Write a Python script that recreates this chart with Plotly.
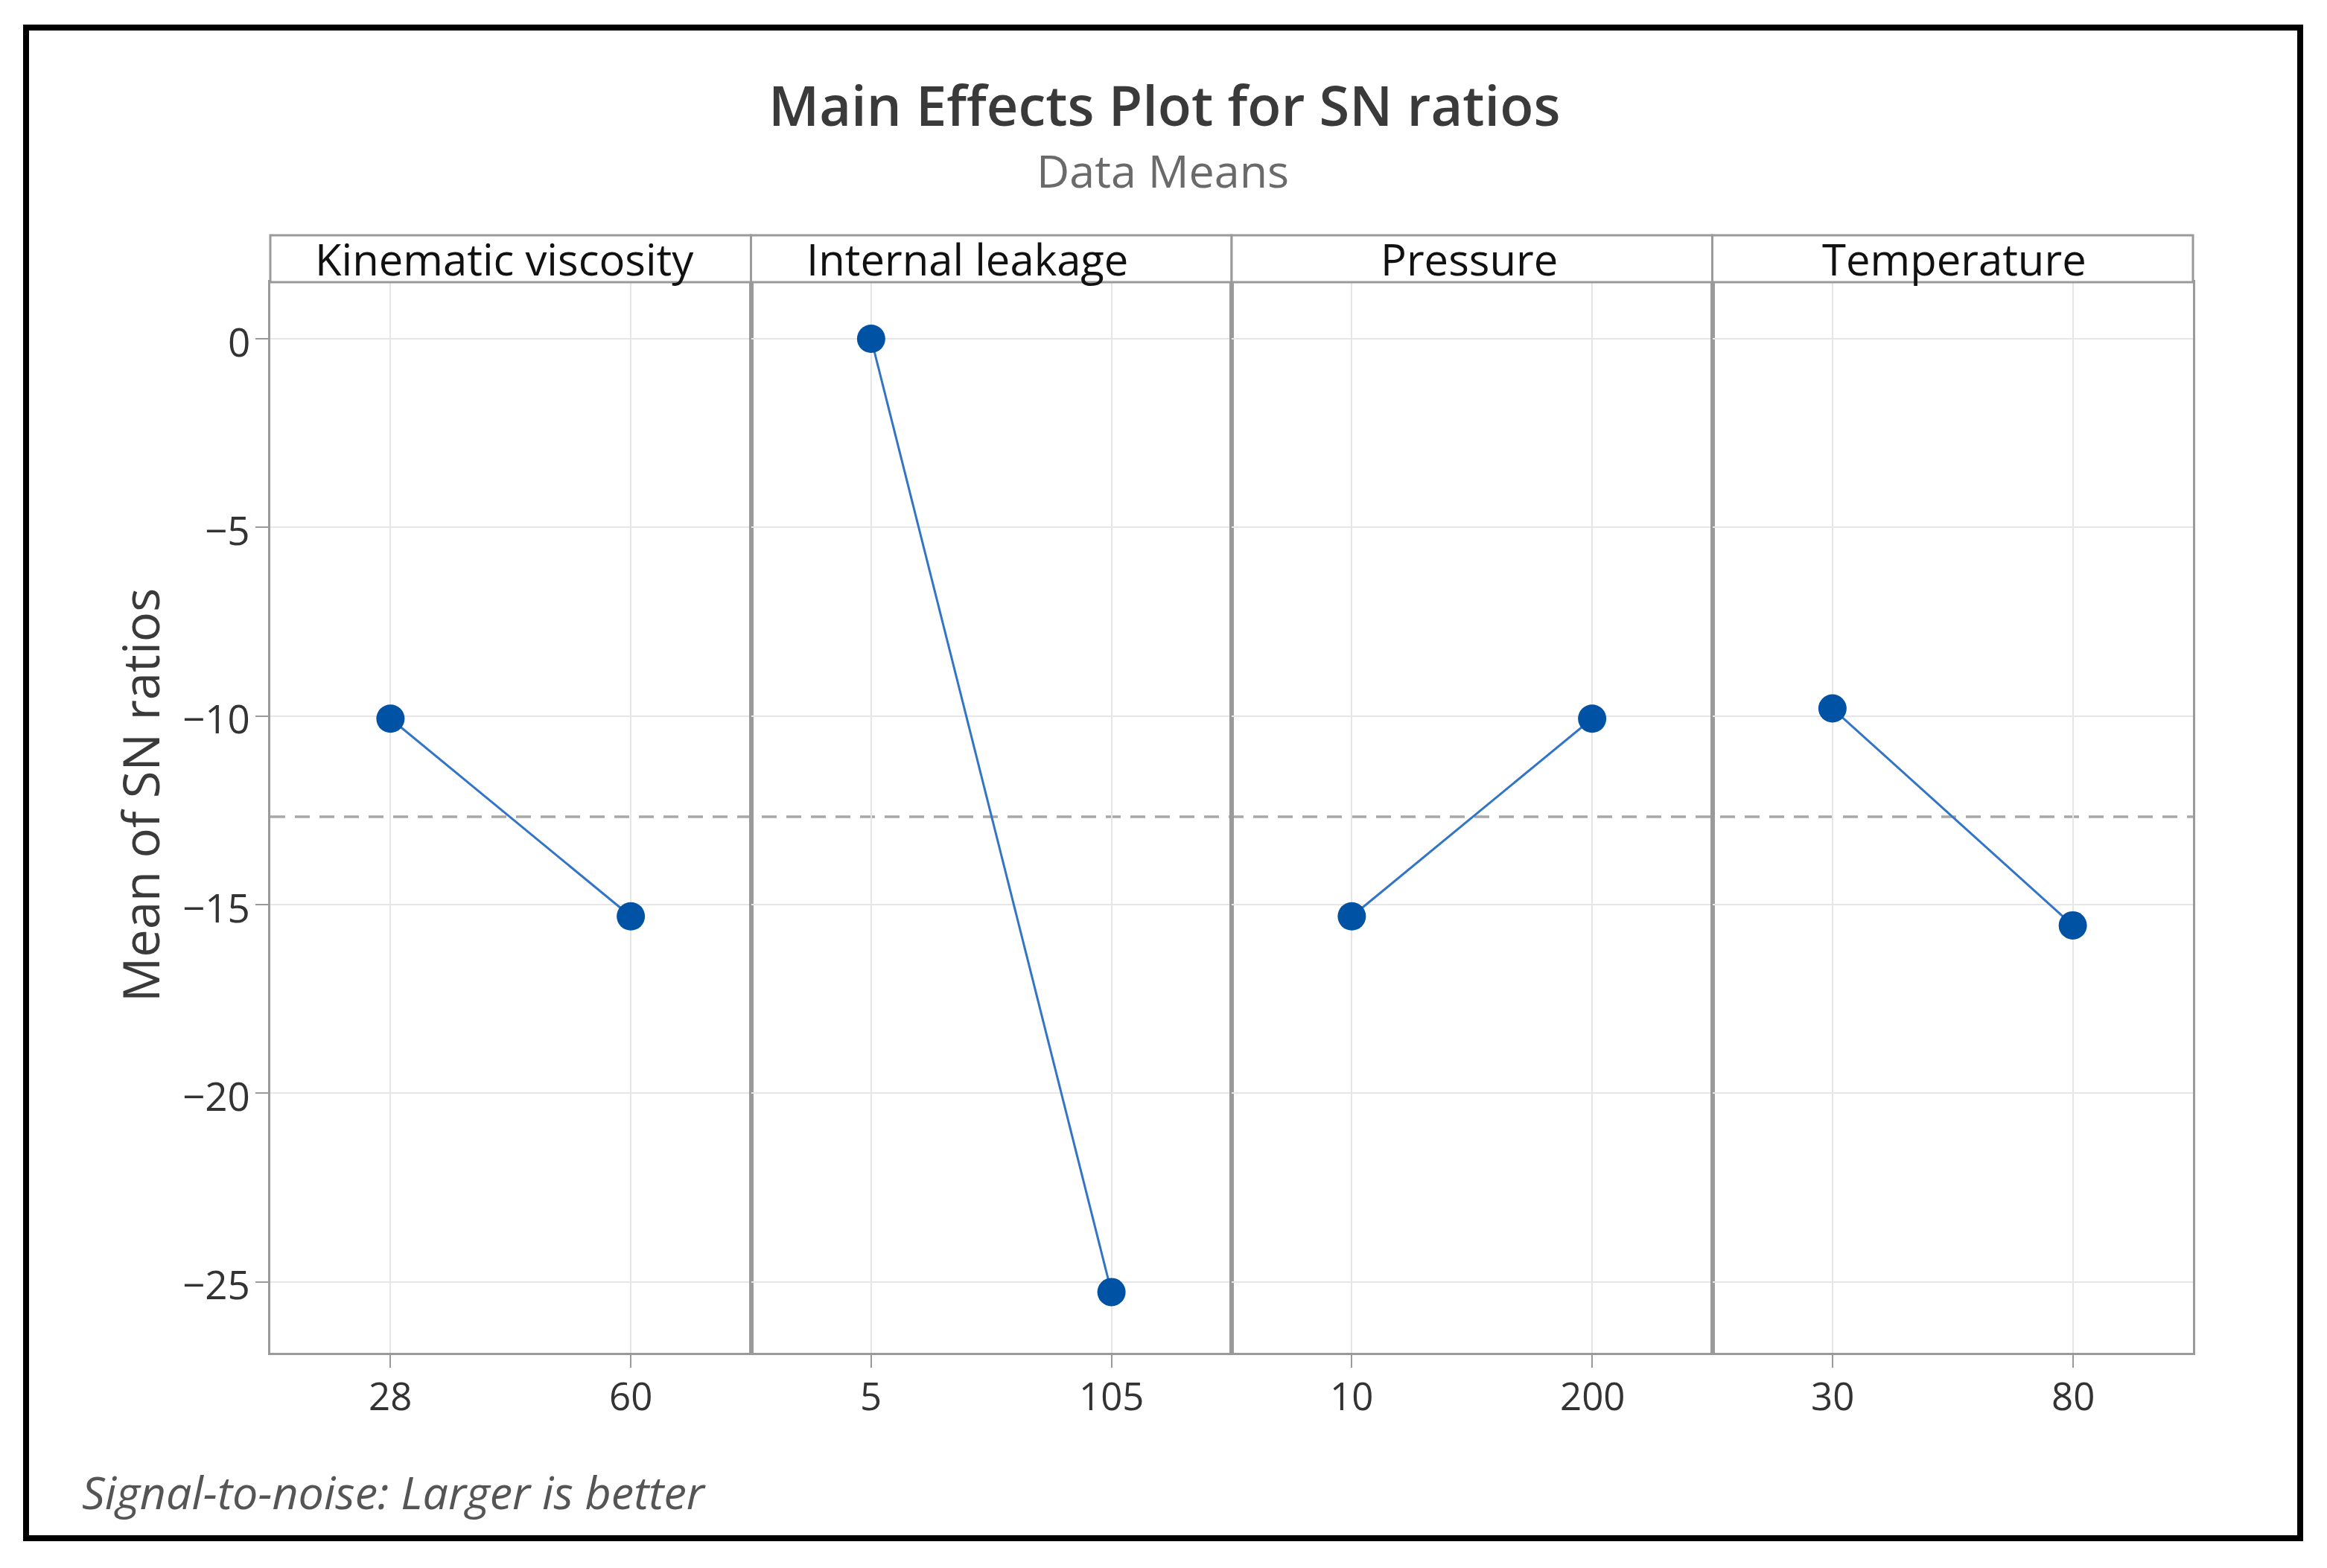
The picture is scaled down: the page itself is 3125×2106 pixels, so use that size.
import plotly.graph_objects as go

# ---- data ----
factors = ["Kinematic viscosity", "Internal leakage", "Pressure", "Temperature"]
levels = [["28", "60"], ["5", "105"], ["10", "200"], ["30", "80"]]
sn_means = [[-10.07, -15.31], [0.0, -25.27], [-15.31, -10.07], [-9.80, -15.55]]
y_ticks = [0, -5, -10, -15, -20, -25]
y_range = [-26.88, 1.50]
overall_mean = sum(sum(v) for v in sn_means) / sum(len(v) for v in sn_means)

W, H = 3125, 2106
FONT = "Open Sans"
OFF = 8  # page body margin in the browser


def px(x):
    return (x - OFF) / W


def py(y):
    return 1 - (y - OFF) / H


panel_edges = [363, 1008.5, 1654, 2299.5, 2945]
strip_label_shift = [-8, -32, -4, 2]
plot_top, plot_bot = 379, 1817
strip_top = 316
TICK_COLOR = "#333333"

fig = go.Figure()
layout = {}
shapes = []
annotations = []

for i, (name, lv, vals) in enumerate(zip(factors, levels, sn_means)):
    n = "" if i == 0 else str(i + 1)
    xa, ya = "x" + n, "y" + n
    fig.add_trace(go.Scatter(
        x=lv, y=vals, xaxis=xa, yaxis=ya, mode="lines+markers",
        line=dict(color="#3274c6", width=3),
        marker=dict(color="#0052a5", size=38, symbol="circle"),
        showlegend=False, hoverinfo="x+y",
    ))
    layout["xaxis" + n] = dict(
        domain=[px(panel_edges[i]), px(panel_edges[i + 1])],
        anchor=ya, type="category", range=[-0.5, 1.5],
        categoryorder="array", categoryarray=lv,
        showgrid=True, gridcolor="#e6e6e6", gridwidth=2,
        showline=True, mirror=True, linecolor="#9a9a9a", linewidth=3,
        ticks="outside", ticklen=17, tickwidth=2, tickcolor="#9a9a9a",
        showticklabels=False,
        zeroline=False, fixedrange=True,
    )
    # x tick labels placed through the category axis (category index)
    for j, lab in enumerate(lv):
        annotations.append(dict(text=lab, xref=xa, x=j, yref="paper", y=py(1874),
                                xanchor="center", yanchor="middle", showarrow=False,
                                font=dict(family=FONT, size=51, color=TICK_COLOR)))
    yd = dict(
        domain=[py(plot_bot), py(plot_top)],
        anchor=xa, range=y_range,
        tickmode="array", tickvals=y_ticks,
        showgrid=True, gridcolor="#e6e6e6", gridwidth=2,
        showline=True, mirror=True, linecolor="#9a9a9a", linewidth=3,
        zeroline=False, fixedrange=True, showticklabels=False,
    )
    if i == 0:
        yd.update(ticks="outside", ticklen=17, tickwidth=2, tickcolor="#9a9a9a")
    else:
        yd.update(ticks="", matches="y")
    layout["yaxis" + n] = yd

    # strip header
    shapes.append(dict(type="rect", xref="paper", yref="paper",
                       x0=px(panel_edges[i]), x1=px(panel_edges[i + 1]),
                       y0=py(plot_top), y1=py(strip_top),
                       line=dict(color="#9a9a9a", width=3), fillcolor="white"))
    annotations.append(dict(text=name, xref="paper", yref="paper",
                            x=(px(panel_edges[i]) + px(panel_edges[i + 1])) / 2,
                            y=(py(plot_top) + py(strip_top)) / 2,
                            xshift=strip_label_shift[i],
                            xanchor="center", yanchor="middle", showarrow=False,
                            font=dict(family=FONT, size=58, color="#111111")))

# y tick labels placed through the y axis scale
for v in y_ticks:
    annotations.append(dict(text=str(v).replace("-", "\u2212"), xref="paper", x=px(338),
                            yref="y", y=v, yshift=-3, xanchor="right", yanchor="middle",
                            showarrow=False,
                            font=dict(family=FONT, size=53, color=TICK_COLOR)))

# reference (overall mean) line
shapes.append(dict(type="line", xref="paper", yref="y",
                   x0=px(panel_edges[0]), x1=px(panel_edges[-1]),
                   y0=overall_mean, y1=overall_mean, layer="below",
                   line=dict(color="#a8a8a8", width=3.5, dash="20px,13px")))

# outer black frame
shapes.append(dict(type="rect", xref="paper", yref="paper",
                   x0=px(35), x1=px(3089), y0=py(2066), y1=py(37),
                   line=dict(color="black", width=8)))

annotations += [
    dict(text="Main Effects Plot for SN ratios", xref="paper", yref="paper",
         x=px(1563), y=py(141), xanchor="center", yanchor="middle", showarrow=False,
         font=dict(family=FONT, size=74, color="#3a3a3a", weight=600)),
    dict(text="Data Means", xref="paper", yref="paper",
         x=px(1561), y=py(228), xanchor="center", yanchor="middle", showarrow=False,
         font=dict(family=FONT, size=61, color="#6a6a6a")),
    dict(text="Mean of SN ratios", xref="paper", yref="paper",
         x=px(188), y=py(1068), xanchor="center", yanchor="middle", showarrow=False,
         textangle=-90, font=dict(family=FONT, size=67, color="#3a3a3a")),
    dict(text="<i>Signal-to-noise: Larger is better</i>", xref="paper", yref="paper",
         x=px(108), y=py(2003), xanchor="left", yanchor="middle", showarrow=False,
         font=dict(family=FONT, size=61, color="#555555")),
]

fig.update_layout(
    width=W, height=H, margin=dict(l=0, r=0, t=0, b=0),
    paper_bgcolor="white", plot_bgcolor="white",
    shapes=shapes, annotations=annotations, **layout,
)

fig.write_html("out.html")
